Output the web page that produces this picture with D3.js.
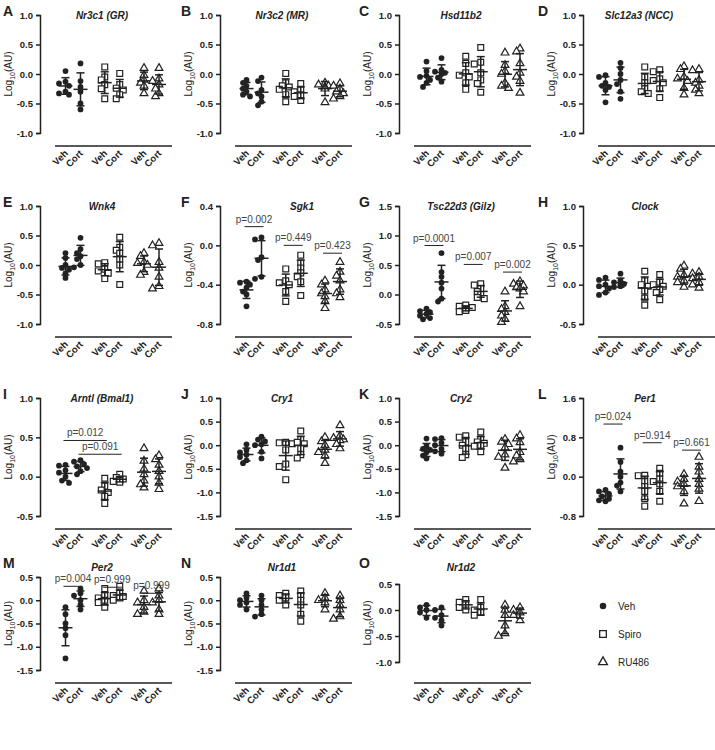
<!DOCTYPE html>
<html>
<head>
<meta charset="utf-8">
<script src="https://cdn.jsdelivr.net/npm/d3@7"></script>
<style>
  body { margin: 0; background: #fff; }
  svg { font-family: Arial, "Liberation Sans", sans-serif; }
</style>
</head>
<body>
<svg width="715" height="750"></svg>
<script>
// Panel letters, gene names and x tick labels
const letters = "ABCDEFGHIJKLMNO".split("");
const genes = ["Nr3c1 (GR)", "Nr3c2 (MR)", "Hsd11b2", "Slc12a3 (NCC)", "Wnk4", "Sgk1",
  "Tsc22d3 (Gilz)", "Clock", "Arntl (Bmal1)", "Cry1", "Cry2", "Per1", "Per2", "Nr1d1", "Nr1d2"];
const xLabels = ["Veh", "Cort"];
const treatments = ["Veh", "Spiro", "RU486"];

// y tick values for every panel
const yTicks = [
  [-1, -0.5, 0, 0.5, 1], [-1, -0.5, 0, 0.5, 1], [-1, -0.5, 0, 0.5, 1], [-1, -0.5, 0, 0.5, 1],
  [-1, -0.5, 0, 0.5, 1], [-0.8, -0.4, 0, 0.4], [-0.5, 0, 0.5, 1, 1.5], [-0.5, 0, 0.5, 1],
  [-0.5, 0, 0.5, 1], [-1.5, -1, -0.5, 0, 0.5, 1], [-1.5, -1, -0.5, 0, 0.5, 1], [-0.8, 0, 0.8, 1.6],
  [-1.5, -1, -0.5, 0, 0.5], [-1.5, -1, -0.5, 0, 0.5], [-1, -0.5, 0, 0.5]
];

// Log10(AU) values, groups in order Veh/Veh, Veh/Cort, Spiro/Veh, Spiro/Cort, RU486/Veh, RU486/Cort
const nr3c1 = [[0.05, -0.13, -0.16, -0.2, -0.3, -0.33, -0.35], [0.18, -0.12, -0.22, -0.3, -0.5, -0.6],
  [0.12, -0.05, -0.1, -0.18, -0.25, -0.42], [0.01, -0.18, -0.24, -0.27, -0.35, -0.42],
  [0.1, -0.02, -0.1, -0.15, -0.2, -0.33], [0.1, -0.08, -0.12, -0.18, -0.25, -0.33, -0.38]];
const nr3c2 = [[-0.1, -0.15, -0.2, -0.25, -0.35, -0.38, -0.3], [-0.06, -0.12, -0.27, -0.33, -0.38, -0.47, -0.53],
  [0.01, -0.15, -0.2, -0.22, -0.26, -0.35, -0.47], [-0.16, -0.27, -0.3, -0.35, -0.38, -0.45],
  [-0.15, -0.18, -0.2, -0.22, -0.25, -0.48], [-0.16, -0.2, -0.25, -0.3, -0.33, -0.38, -0.42]];
const hsd11b2 = [[0.21, 0.05, -0.03, -0.05, -0.1, -0.15, -0.22], [0.27, 0.07, 0.04, 0.02, 0.0, -0.06, -0.13],
  [0.3, 0.18, 0.02, -0.02, -0.05, -0.15, -0.26], [0.45, 0.2, 0.17, 0.02, -0.1, -0.16, -0.31],
  [0.36, 0.15, 0.05, 0.0, -0.15, -0.2, -0.24], [0.43, 0.38, 0.18, 0.02, -0.05, -0.12, -0.32]];
const slc12a3 = [[-0.02, -0.05, -0.15, -0.2, -0.22, -0.27, -0.48], [0.19, 0.1, 0.0, -0.1, -0.17, -0.3, -0.42],
  [0.12, -0.05, -0.15, -0.25, -0.3, -0.33], [0.07, 0.04, -0.08, -0.11, -0.15, -0.25, -0.4],
  [0.13, 0.08, -0.05, -0.08, -0.12, -0.24, -0.35], [0.08, 0.06, -0.1, -0.15, -0.2, -0.27, -0.33]];
const wnk4 = [[0.2, 0.12, 0.0, -0.05, -0.08, -0.14, -0.22], [0.46, 0.27, 0.2, 0.15, 0.1, 0.0, -0.04],
  [0.04, 0.02, -0.07, -0.1, -0.14, -0.23], [0.47, 0.3, 0.25, 0.2, 0.1, 0.0, -0.33],
  [0.2, 0.15, 0.05, 0.03, 0.0, -0.12, -0.17], [0.37, 0.33, 0.05, -0.05, -0.2, -0.36, -0.4]];
const sgk1 = [[-0.37, -0.38, -0.4, -0.43, -0.47, -0.5, -0.62], [0.08, 0.06, -0.12, -0.15, -0.32, -0.34],
  [-0.24, -0.36, -0.38, -0.4, -0.47, -0.57], [-0.1, -0.18, -0.23, -0.28, -0.32, -0.37, -0.51],
  [-0.36, -0.4, -0.45, -0.49, -0.52, -0.57, -0.64], [-0.17, -0.27, -0.31, -0.36, -0.45, -0.49, -0.53]];
const tsc22d3 = [[-0.24, -0.28, -0.3, -0.33, -0.36, -0.4, -0.42], [0.7, 0.38, 0.3, 0.2, 0.1, -0.07, -0.12],
  [-0.18, -0.2, -0.22, -0.25, -0.27, -0.29], [0.18, 0.16, 0.1, 0.05, 0.0, -0.05, -0.07],
  [0.05, -0.2, -0.25, -0.3, -0.36, -0.42, -0.47], [0.22, 0.18, 0.15, 0.12, 0.1, 0.05, -0.2]];
const clock = [[0.09, 0.06, 0.0, -0.02, -0.05, -0.1, -0.13], [0.14, 0.05, 0.03, 0.01, 0.0, -0.02, -0.03],
  [0.17, 0.05, 0.0, -0.02, -0.08, -0.17, -0.26], [0.13, 0.03, 0.0, -0.02, -0.06, -0.1, -0.19],
  [0.24, 0.2, 0.12, 0.1, 0.05, 0.03, -0.03], [0.16, 0.14, 0.1, 0.08, 0.03, 0.0, -0.04]];
const arntl = [[0.15, 0.14, 0.08, 0.05, 0.0, -0.05, -0.08], [0.21, 0.19, 0.16, 0.13, 0.11, 0.07, 0.03],
  [-0.02, -0.12, -0.17, -0.2, -0.25, -0.34], [0.03, -0.01, -0.03, -0.04, -0.05, -0.06, -0.07],
  [0.36, 0.2, 0.1, 0.03, -0.05, -0.1, -0.14], [0.27, 0.22, 0.15, 0.07, 0.0, -0.08, -0.16]];
const cry1 = [[0.02, -0.1, -0.15, -0.2, -0.25, -0.32, -0.38], [0.18, 0.12, 0.08, 0.02, 0.0, -0.14, -0.28],
  [0.06, 0.05, 0.03, -0.1, -0.4, -0.45, -0.73], [0.3, 0.12, 0.06, 0.03, -0.07, -0.2, -0.27],
  [0.17, 0.08, 0.0, -0.1, -0.15, -0.22, -0.38], [0.42, 0.2, 0.15, 0.12, 0.1, 0.02, -0.07]];
const cry2 = [[0.14, -0.02, -0.08, -0.1, -0.15, -0.22, -0.28], [0.15, 0.13, 0.05, 0.0, -0.08, -0.13, -0.18],
  [0.2, 0.17, 0.07, 0.0, -0.07, -0.2, -0.26], [0.28, 0.13, 0.07, 0.04, 0.0, -0.02, -0.14],
  [0.13, 0.07, 0.02, -0.05, -0.2, -0.25, -0.48], [0.21, 0.14, 0.06, -0.15, -0.22, -0.3, -0.35]];
const per1 = [[-0.27, -0.3, -0.35, -0.4, -0.45, -0.48, -0.5], [0.59, 0.3, 0.1, 0.0, -0.12, -0.18, -0.3],
  [0.03, 0.02, -0.1, -0.2, -0.3, -0.45, -0.6], [0.17, 0.07, -0.05, -0.1, -0.15, -0.3, -0.5],
  [0.05, -0.05, -0.1, -0.15, -0.2, -0.3, -0.55], [0.4, 0.2, 0.1, -0.05, -0.15, -0.25, -0.5]];
const per2 = [[-0.15, -0.3, -0.5, -0.6, -0.75, -1.25], [0.25, 0.15, 0.1, 0.0, -0.1, -0.2],
  [0.25, 0.1, 0.05, 0.0, -0.05, -0.15], [0.3, 0.15, 0.1, 0.08, 0.05, 0.0],
  [0.2, 0.0, -0.05, -0.15, -0.25, -0.3], [0.25, 0.1, 0.0, -0.05, -0.2, -0.3]];
const nr1d1 = [[0.15, 0.05, 0.0, -0.05, -0.1, -0.2], [0.1, 0.0, -0.1, -0.2, -0.3, -0.35],
  [0.15, 0.1, 0.05, 0.0, -0.1], [0.2, 0.1, 0.0, -0.1, -0.3, -0.45],
  [0.15, 0.05, 0.0, -0.05, -0.2], [0.1, 0.0, -0.1, -0.2, -0.35, -0.4]];
const nr1d2 = [[0.1, 0.05, 0.0, -0.05, -0.15], [0.05, 0.0, -0.1, -0.15, -0.2, -0.3],
  [0.2, 0.15, 0.1, 0.05, 0.0], [0.2, 0.05, 0.0, -0.05, -0.1],
  [0.1, 0.0, -0.1, -0.3, -0.45, -0.5], [0.05, 0.0, -0.05, -0.1, -0.2]];
const panelValues = [nr3c1, nr3c2, hsd11b2, slc12a3, wnk4, sgk1, tsc22d3, clock, arntl,
  cry1, cry2, per1, per2, nr1d1, nr1d2];

// p-value brackets: group indexes a..b, bracket height in data units
const pSgk1 = [{ a: 0, b: 1, v: 0.19, p: "p=0.002" }, { a: 2, b: 3, v: 0.0, p: "p=0.449" }, { a: 4, b: 5, v: -0.08, p: "p=0.423" }];
const pTsc22d3 = [{ a: 0, b: 1, v: 0.83, p: "p=0.0001" }, { a: 2, b: 3, v: 0.51, p: "p=0.007" }, { a: 4, b: 5, v: 0.38, p: "p=0.002" }];
const pArntl = [{ a: 0, b: 2, v: 0.46, p: "p=0.012" }, { a: 1, b: 3, v: 0.285, p: "p=0.091" }];
const pPer1 = [{ a: 0, b: 1, v: 1.07, p: "p=0.024" }, { a: 2, b: 3, v: 0.69, p: "p=0.914" }, { a: 4, b: 5, v: 0.54, p: "p=0.661" }];
const pPer2 = [{ a: 0, b: 1, v: 0.3, p: "p=0.004" }, { a: 2, b: 3, v: 0.28, p: "p=0.999" }, { a: 4, b: 5, v: 0.15, p: "p=0.999" }];
const pBrackets = { 5: pSgk1, 6: pTsc22d3, 8: pArntl, 11: pPer1, 12: pPer2 };

// ---- layout ----
const colAxisX = [40, 220, 399, 583];
const colShift = [0, 1, 2, -3];
const colLetterX = [3, 181, 359, 538];
const rowTop = [15, 206, 398, 577];
const rowBottom = [133, 324, 516, 670];
const rowTitleY = [19, 210, 402, 571];
// panel O has a shorter y axis
const frameOverride = { 14: { top: 584, bottom: 662, xAxisY: 683 } };
const titleShift = { 5: 20, 3: -6 };
const symbols = [d3.symbolCircle, d3.symbolSquare, d3.symbolTriangle];
const symbolSize = [26, 34, 26];
const ink = "#222";

const svg = d3.select("svg");
const fmt = (d) => d.toFixed(1);

panelValues.forEach((groups, i) => {
  const col = i % 4, row = Math.floor(i / 4);
  const ax = colAxisX[col];
  const fr = frameOverride[i] || {};
  const top = fr.top || rowTop[row], bottom = fr.bottom || rowBottom[row];
  const xAxisY = fr.xAxisY || bottom + 13;
  const g = svg.append("g").attr("class", "panel");

  const y = d3.scaleLinear().domain(d3.extent(yTicks[i])).range([bottom, top]);
  const xGroup = d3.scalePoint().domain(treatments)
    .range([ax + 33 + colShift[col], ax + 111.5 + colShift[col]]);
  const xSub = d3.scalePoint().domain(xLabels).range([-7.5, 7.5]);
  const xAt = (k) => xGroup(treatments[Math.floor(k / 2)]) + xSub(xLabels[k % 2]);

  // y axis
  const yAxis = g.append("g")
    .attr("transform", `translate(${ax},0)`)
    .call(d3.axisLeft(y).tickValues(yTicks[i]).tickSize(4).tickPadding(3).tickFormat(fmt));
  yAxis.select(".domain").attr("stroke", ink).attr("stroke-width", 1.5);
  yAxis.selectAll(".tick line").attr("stroke", ink).attr("stroke-width", 1.5);
  yAxis.selectAll(".tick text").attr("fill", ink).attr("font-size", 9.5).attr("font-weight", "bold");

  // y axis title with subscript
  const yt = g.append("text")
    .attr("transform", `translate(${ax - 28},${(top + bottom) / 2}) rotate(-90)`)
    .attr("text-anchor", "middle").attr("font-size", 10).attr("fill", ink);
  yt.append("tspan").text("Log");
  yt.append("tspan").attr("font-size", 7).attr("dy", 3).text("10");
  yt.append("tspan").attr("dy", -3).text("(AU)");

  // x axis line and rotated labels
  g.append("line")
    .attr("x1", ax + 15).attr("x2", ax + 132)
    .attr("y1", xAxisY).attr("y2", xAxisY)
    .attr("stroke", ink).attr("stroke-width", 1.5);
  g.selectAll(".xl").data(d3.range(6)).join("text")
    .attr("class", "xl")
    .attr("transform", (k) => `translate(${xAt(k) + 3},${xAxisY + 8}) rotate(-45)`)
    .attr("text-anchor", "end").attr("font-size", 9.5).attr("font-weight", "bold").attr("fill", ink)
    .text((k) => xLabels[k % 2]);

  // title and panel letter
  g.append("text")
    .attr("x", ax + 62 + (titleShift[i] || 0)).attr("y", rowTitleY[row])
    .attr("text-anchor", "middle").attr("font-size", 10).attr("font-weight", "bold")
    .attr("font-style", "italic").attr("fill", ink).text(genes[i]);
  g.append("text")
    .attr("x", colLetterX[col]).attr("y", rowTitleY[row] - 3)
    .attr("font-size", 14).attr("font-weight", "bold").attr("fill", ink).text(letters[i]);

  // points, then mean and SD on top
  groups.forEach((vals, k) => {
    const cx = xAt(k);
    const type = Math.floor(k / 2);
    const placed = [];
    vals.slice().sort((a, b) => b - a).forEach((v) => {
      const py = y(v);
      const dx = [0, -3.5, 3.5, -6.5, 6.5].find((o) =>
        placed.every((p) => Math.hypot(p.dx - o, p.py - py) >= 4.5));
      placed.push({ dx: dx === undefined ? 0 : dx, py });
    });
    g.selectAll(null).data(placed).join("path")
      .attr("d", d3.symbol(symbols[type], symbolSize[type]))
      .attr("transform", (p) => `translate(${cx + p.dx},${p.py})`)
      .attr("fill", type === 0 ? ink : "#fff")
      .attr("stroke", ink).attr("stroke-width", type === 0 ? 0 : 1.2);

    const m = d3.mean(vals), sd = d3.deviation(vals);
    const eb = g.append("g").attr("stroke", ink).attr("stroke-width", 1.5);
    eb.append("line").attr("x1", cx).attr("x2", cx).attr("y1", y(m + sd)).attr("y2", y(m - sd));
    eb.append("line").attr("x1", cx - 7).attr("x2", cx + 7).attr("y1", y(m)).attr("y2", y(m));
    [m + sd, m - sd].forEach((c) =>
      eb.append("line").attr("x1", cx - 4).attr("x2", cx + 4).attr("y1", y(c)).attr("y2", y(c)));
  });

  // p-value brackets
  (pBrackets[i] || []).forEach((b) => {
    const x1 = xAt(b.a) - 2, x2 = xAt(b.b) + 2, by = y(b.v);
    g.append("line").attr("x1", x1).attr("x2", x2).attr("y1", by).attr("y2", by)
      .attr("stroke", ink).attr("stroke-width", 1);
    g.append("text").attr("x", (x1 + x2) / 2).attr("y", by - 4)
      .attr("text-anchor", "middle").attr("font-size", 10).attr("fill", "#444").text(b.p);
  });
});

// legend
const legend = svg.append("g").attr("transform", "translate(603,606)");
treatments.forEach((t, k) => {
  legend.append("path")
    .attr("d", d3.symbol(symbols[k], symbolSize[k] * 1.3))
    .attr("transform", `translate(0,${k * 28})`)
    .attr("fill", k === 0 ? ink : "#fff").attr("stroke", ink).attr("stroke-width", k === 0 ? 0 : 1.3);
  legend.append("text").attr("x", 15).attr("y", k * 28 + 3.5)
    .attr("font-size", 10).attr("fill", ink).text(t);
});
</script>
</body>
</html>
